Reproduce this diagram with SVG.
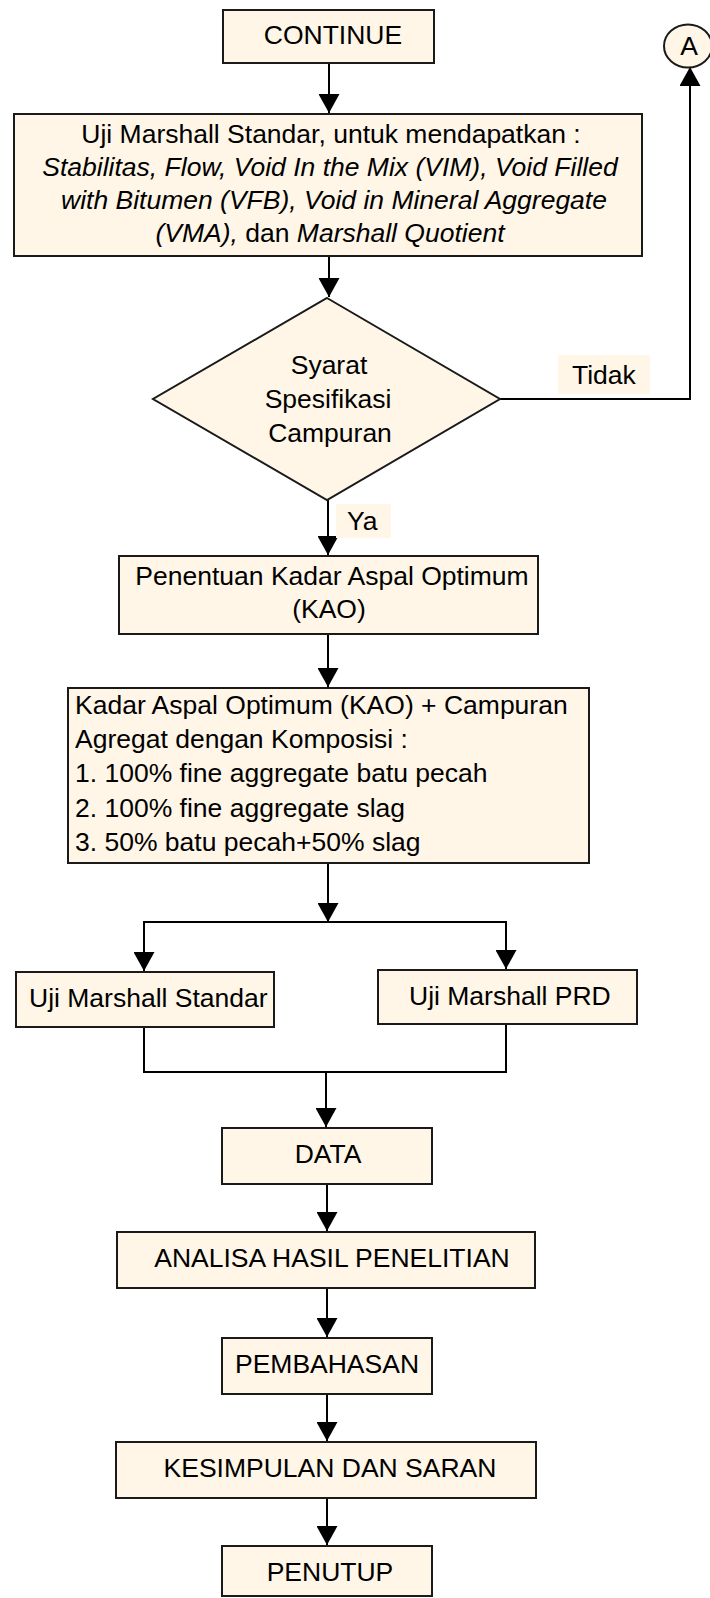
<svg xmlns="http://www.w3.org/2000/svg" width="710" height="1598" viewBox="0 0 710 1598">
<style>
.box{fill:#FFF6E7;stroke:#1a1a1a;stroke-width:2}
.lbl{fill:#FFF6E7;stroke:none}
.t{font-family:"Liberation Sans",Arial,sans-serif;font-size:26.5px;fill:#000}
.c{text-anchor:middle}
.i{font-style:italic}
.con{fill:none;stroke:#000;stroke-width:2}
</style>
<defs>
<marker id="ah" markerUnits="userSpaceOnUse" markerWidth="19" markerHeight="21" viewBox="0 0 19 21" refX="19" refY="10.5" orient="auto">
<path d="M0,0 L19,10.5 L0,21 Z" fill="#000"/>
</marker>
</defs>
<rect width="710" height="1598" fill="#fff"/>

<g id="connectors">
<path class="con" d="M329,63 V113" marker-end="url(#ah)"/>
<path class="con" d="M329,256 V297" marker-end="url(#ah)"/>
<path class="con" d="M500,399 H690 V67" marker-end="url(#ah)"/>
<path class="con" d="M328,500 V555" marker-end="url(#ah)"/>
<path class="con" d="M328,634 V687" marker-end="url(#ah)"/>
<path class="con" d="M328,863 V922" marker-end="url(#ah)"/>
<path class="con" d="M328,922 H144 V971" marker-end="url(#ah)"/>
<path class="con" d="M328,922 H506 V969" marker-end="url(#ah)"/>
<path class="con" d="M144,1027 V1072 H506 V1024"/>
<path class="con" d="M326,1072 V1127" marker-end="url(#ah)"/>
<path class="con" d="M327,1184 V1231" marker-end="url(#ah)"/>
<path class="con" d="M327,1288 V1337" marker-end="url(#ah)"/>
<path class="con" d="M327,1394 V1441" marker-end="url(#ah)"/>
<path class="con" d="M327,1498 V1545" marker-end="url(#ah)"/>
<g id="label-tidak">
<rect class="lbl" x="558" y="355" width="92" height="39"/>
<text class="t" x="572" y="384">Tidak</text>
</g>
<g id="label-ya">
<rect class="lbl" x="336" y="504" width="55" height="34"/>
<text class="t" x="347" y="530">Ya</text>
</g>
</g>

<g id="continue">
<rect class="box" x="223" y="10" width="211" height="53"/>
<text class="t c" x="333" y="44">CONTINUE</text>
</g>

<g id="connector-a">
<ellipse class="box" cx="688" cy="46" rx="24" ry="21.5"/>
<text class="t c" x="689" y="55">A</text>
</g>

<g id="uji-marshall-standar-main">
<rect class="box" x="14" y="114" width="628" height="142"/>
<text class="t c" x="331" y="143">Uji Marshall Standar, untuk mendapatkan :</text>
<text class="t c i" x="330" y="176">Stabilitas, Flow, Void In the Mix (VIM), Void Filled</text>
<text class="t c i" x="334" y="209">with Bitumen (VFB), Void in Mineral Aggregate</text>
<text class="t c" x="330" y="242"><tspan class="i">(VMA),</tspan> dan <tspan class="i">Marshall Quotient</tspan></text>
</g>

<g id="syarat">
<polygon class="box" points="327,298 500,399 327,500 153,399"/>
<text class="t c" x="329" y="374">Syarat</text>
<text class="t c" x="328" y="408">Spesifikasi</text>
<text class="t c" x="330" y="442">Campuran</text>
</g>

<g id="penentuan-kao">
<rect class="box" x="119" y="556" width="419" height="78"/>
<text class="t c" x="332" y="585">Penentuan Kadar Aspal Optimum</text>
<text class="t c" x="329" y="618">(KAO)</text>
</g>

<g id="kao-campuran">
<rect class="box" x="68" y="688" width="521" height="175"/>
<text class="t" x="75" y="714">Kadar Aspal Optimum (KAO) + Campuran</text>
<text class="t" x="75" y="748">Agregat dengan Komposisi :</text>
<text class="t" x="75" y="782">1. 100% fine aggregate batu pecah</text>
<text class="t" x="75" y="817">2. 100% fine aggregate slag</text>
<text class="t" x="75" y="851">3. 50% batu pecah+50% slag</text>
</g>

<g id="uji-standar">
<rect class="box" x="16" y="972" width="258" height="55"/>
<text class="t" x="29" y="1007">Uji Marshall Standar</text>
</g>

<g id="uji-prd">
<rect class="box" x="378" y="970" width="259" height="54"/>
<text class="t" x="409" y="1005">Uji Marshall PRD</text>
</g>

<g id="data">
<rect class="box" x="222" y="1128" width="210" height="56"/>
<text class="t c" x="328" y="1163">DATA</text>
</g>

<g id="analisa">
<rect class="box" x="117" y="1232" width="418" height="56"/>
<text class="t c" x="332" y="1267">ANALISA HASIL PENELITIAN</text>
</g>

<g id="pembahasan">
<rect class="box" x="222" y="1338" width="210" height="56"/>
<text class="t c" x="327" y="1373">PEMBAHASAN</text>
</g>

<g id="kesimpulan">
<rect class="box" x="116" y="1442" width="420" height="56"/>
<text class="t c" x="330" y="1477">KESIMPULAN DAN SARAN</text>
</g>

<g id="penutup">
<rect class="box" x="222" y="1546" width="210" height="50"/>
<text class="t c" x="330" y="1581">PENUTUP</text>
</g>
</svg>
